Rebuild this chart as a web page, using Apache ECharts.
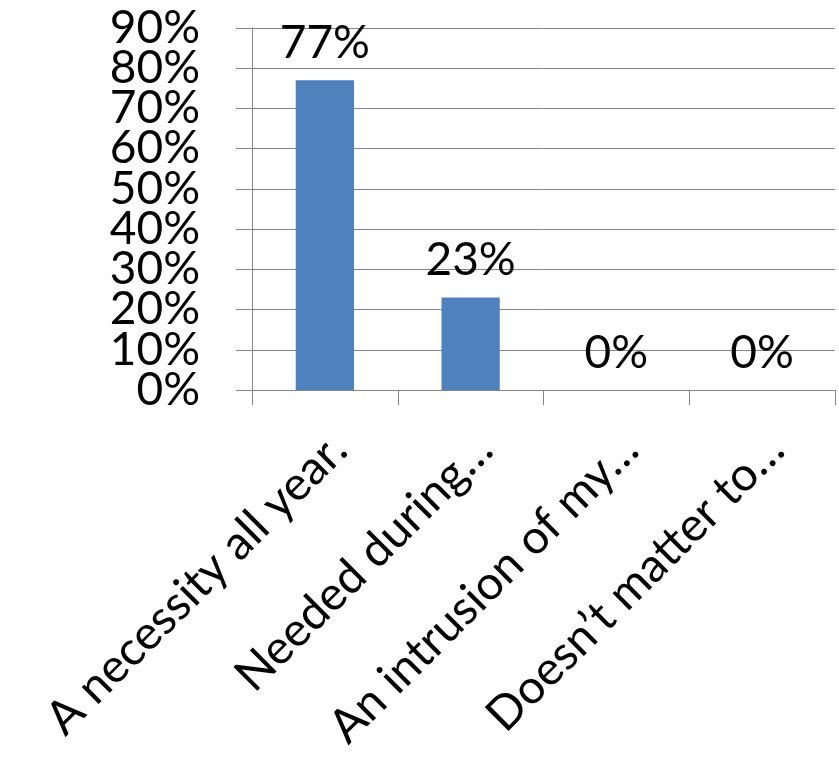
<!DOCTYPE html>
<html>
<head>
<meta charset="utf-8">
<script src="https://cdn.jsdelivr.net/npm/echarts@6/dist/echarts.min.js"></script>
<style>html,body{margin:0;padding:0;background:#fff}#c{width:839px;height:760px}</style>
</head>
<body>
<div id="c"></div>
<script>
const categories = ['A necessity all year.', 'Needed during…', 'An intrusion of my…', 'Doesn’t matter to…'];
const values = [77, 23, 0, 0];
const yMin = 0, yMax = 90, yStep = 10;

const FONT = 'Lato';
const chart = echarts.init(document.getElementById('c'), null, {renderer: 'canvas'});

function yAxisFor(showEven, main) {
  return {
    type: 'value',
    position: 'left',
    min: yMin, max: yMax, interval: yStep,
    axisLine: {show: main, lineStyle: {color: '#868686', width: 1}},
    axisTick: {show: main, length: 16, lineStyle: {color: '#868686'}},
    splitLine: {show: main, lineStyle: {color: '#868686', width: 1}},
    axisLabel: {
      formatter: function (v) { return ((v / yStep) % 2 === 0) === showEven ? v + '%' : ''; },
      margin: 52, fontSize: 46, color: '#000', fontFamily: FONT,
      showMinLabel: true, showMaxLabel: true, hideOverlap: false
    }
  };
}

chart.setOption({
  animation: false,
  backgroundColor: '#fff',
  textStyle: {fontFamily: FONT},
  grid: {left: 252, right: 4, top: 28, bottom: 370, containLabel: false, outerBoundsMode: 'none'},
  xAxis: {
    type: 'category',
    data: categories,
    axisLine: {show: true, lineStyle: {color: '#868686', width: 1}},
    axisTick: {show: true, length: 15, alignWithLabel: false, lineStyle: {color: '#868686'}},
    axisLabel: {rotate: 45, margin: 66, fontSize: 47, color: '#000', fontFamily: FONT, interval: 0,
      hideOverlap: false, padding: [20, -20, 0, 0]}
  },
  yAxis: [yAxisFor(true, true), yAxisFor(false, false)],
  series: [{
    type: 'bar',
    data: values,
    barWidth: '40%',
    yAxisIndex: 0,
    itemStyle: {color: '#4F81BD'},
    label: {show: true, position: 'top', distance: 14, formatter: '{c}%', fontSize: 46, color: '#000', fontFamily: FONT}
  }]
});
</script>
</body>
</html>
